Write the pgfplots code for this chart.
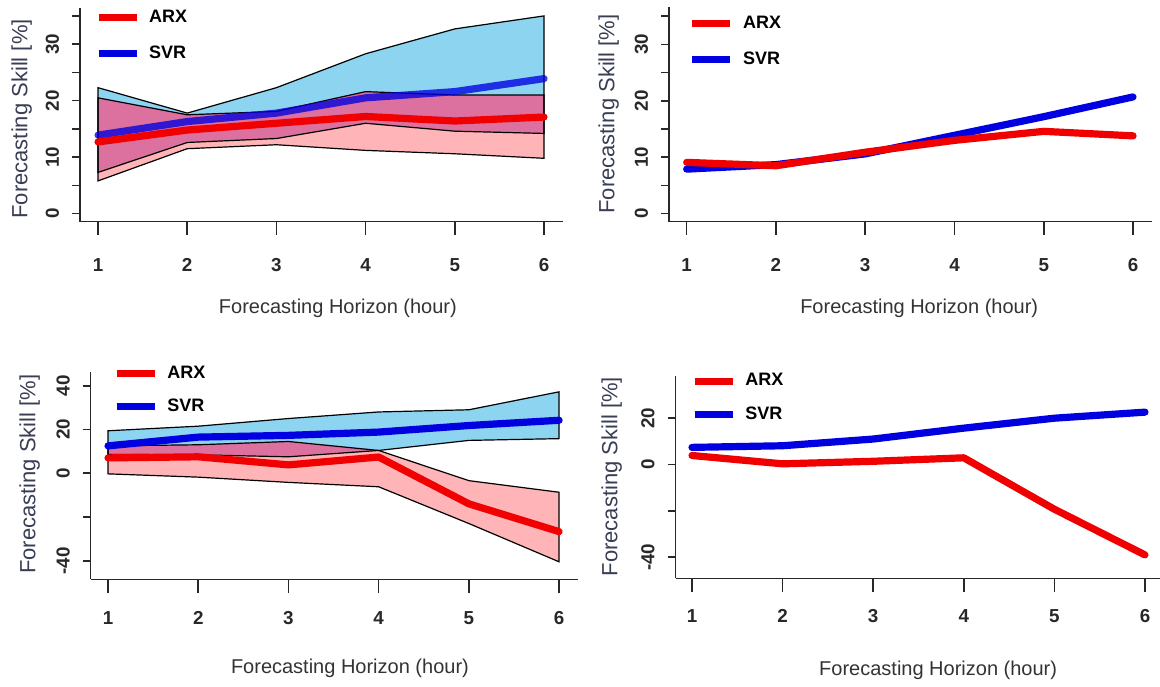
\documentclass[border=0pt]{standalone}
\usepackage{pgfplots}
\pgfplotsset{compat=1.18}
\usepackage{fontspec}
\setmainfont{Liberation Sans}
\definecolor{skyb}{RGB}{140,212,240}
\definecolor{pinkb}{RGB}{255,180,184}
\definecolor{ovl}{RGB}{220,112,158}
\definecolor{rline}{RGB}{240,0,0}
\definecolor{bline}{RGB}{0,0,225}
\definecolor{ylab}{RGB}{58,62,85}
\definecolor{axc}{RGB}{40,40,40}
\pgfplotsset{
  rstyle/.style={
    scale only axis,
    axis x line*=bottom, axis y line*=left,
    axis line style={line width=0.8pt, color=axc},
    tick align=outside,
    xtick={1,2,3,4,5,6}, xticklabels={1,2,3,4,5,6},
    xtick style={line width=0.8pt, color=axc, /pgfplots/major tick length=6.5pt},
    ytick style={line width=0.8pt, color=axc, /pgfplots/major tick length=4pt},
    ticklabel style={font=\bfseries\fontsize{9.4}{10}\selectfont, text=axc},
    xticklabel style={anchor=north, inner sep=0pt},
    yticklabel style={rotate=90, anchor=south, inner sep=0pt},
    xticklabel shift=13.75pt, yticklabel shift=6pt,
    xlabel={Forecasting Horizon (hour)},
    ylabel={Forecasting Skill [\%]},
    xlabel style={font=\fontsize{10}{12}\selectfont, text=black!80, anchor=center},
    ylabel style={font=\fontsize{11}{13}\selectfont, text=ylab, anchor=center},
    legend cell align=left,
    legend image code/.code={\draw[##1] (0pt,0pt) -- (19pt,0pt);},
    legend style={draw=none, fill=none, inner sep=0pt, outer sep=0pt,
      anchor=north west, column sep=4.5pt,
      font=\bfseries\fontsize{9}{10}\selectfont,
      nodes={inner sep=0pt}},
  },
  arxl/.style={rline, line width=3.6pt, line cap=round, line join=round},
  svrl/.style={bline, line width=3.6pt, line cap=round, line join=round},
  svrt/.style={svrl, draw opacity=0.78},
  bandout/.style={black, line width=0.6pt},
}
\begin{document}
\begin{tikzpicture}
\useasboundingbox (0,0) rectangle (580pt,343pt);
% ---------------- Panel 1 ----------------
\begin{axis}[rstyle, at={(40pt,232.15pt)}, anchor=south west,
  width=241.5pt, height=106.85pt,
  xmin=0.798, xmax=6.213, ymin=-1.42, ymax=36.4,
  ytick={0,5,10,15,20,25,30,35}, yticklabels={0,,10,,20,,30,},
  xlabel style={at={(axis description cs:0.534,-0.404)}},
  ylabel style={at={(axis description cs:-0.1207,0.481)}},
  legend style={at={(axis description cs:0.031,0.990)}, row sep=10.15pt}]
% SVR band
\addplot[fill=skyb, draw=none, forget plot] coordinates {(1,7.3) (2,12.6) (3,13.3) (4,16.0) (5,14.6) (6,14.2) (6,35.0) (5,32.7) (4,28.3) (3,22.3) (2,17.8) (1,22.3)} -- cycle;
% ARX only
\addplot[fill=pinkb, draw=none, forget plot] coordinates {(1,5.8) (2,11.5) (3,12.2) (4,11.2) (5,10.6) (6,9.8) (6,14.2) (5,14.6) (4,16.0) (3,13.3) (2,12.6) (1,7.3)} -- cycle;
% overlap
\addplot[fill=ovl, draw=none, forget plot] coordinates {(1,7.3) (2,12.6) (3,13.3) (4,16.0) (5,14.6) (6,14.2) (6,21.0) (5,21.0) (4,21.6) (3,18.1) (2,17.5) (1,20.5)} -- cycle;
% outlines
\addplot[bandout, forget plot] coordinates {(1,7.3) (2,12.6) (3,13.3) (4,16.0) (5,14.6) (6,14.2) (6,35.0) (5,32.7) (4,28.3) (3,22.3) (2,17.8) (1,22.3)} -- cycle;
\addplot[bandout, forget plot] coordinates {(1,5.8) (2,11.5) (3,12.2) (4,11.2) (5,10.6) (6,9.8) (6,21.0) (5,21.0) (4,21.6) (3,18.1) (2,17.5) (1,20.5)} -- cycle;
% SVR mean
\addplot[svrt, forget plot] coordinates {(1,13.9) (2,16.3) (3,17.8) (4,20.5) (5,21.6) (6,23.9)};
% ARX mean
\addplot[arxl, forget plot] coordinates {(1,12.7) (2,14.8) (3,16.0) (4,17.2) (5,16.4) (6,17.1)};
\addlegendimage{arxl, line cap=butt}\addlegendentry{ARX}
\addlegendimage{svrl, line cap=butt}\addlegendentry{SVR}
\end{axis}
% ---------------- Panel 2 ----------------
\begin{axis}[rstyle, at={(334.5pt,232.15pt)}, anchor=south west,
  width=241.5pt, height=107.5pt,
  xmin=0.802, xmax=6.213, ymin=-1.42, ymax=36.7,
  ytick={0,5,10,15,20,25,30,35}, yticklabels={0,,10,,20,,30,},
  xlabel style={at={(axis description cs:0.518,-0.401)}},
  ylabel style={at={(axis description cs:-0.125,0.501)}},
  legend style={at={(axis description cs:0.041,0.956)}, row sep=10.15pt}]
\addplot[svrl, forget plot] coordinates {(1,7.9) (2,8.7) (3,10.6) (4,13.9) (5,17.2) (6,20.7)};
\addplot[arxl, forget plot] coordinates {(1,9.1) (2,8.5) (3,10.9) (4,13.0) (5,14.6) (6,13.8)};
\addlegendimage{arxl, line cap=butt}\addlegendentry{ARX}
\addlegendimage{svrl, line cap=butt}\addlegendentry{SVR}
\end{axis}
% ---------------- Panel 3 ----------------
\begin{axis}[rstyle, at={(45.35pt,53.35pt)}, anchor=south west,
  width=243.65pt, height=103.8pt,
  xmin=0.808, xmax=6.21, ymin=-48.5, ymax=46.4,
  ytick={-40,-20,0,20,40}, yticklabels={-40,,0,20,40},
  xtick style={/pgfplots/major tick length=7pt},
  xticklabel shift=11.5pt,
  xlabel style={at={(axis description cs:0.532,-0.429)}},
  ylabel style={at={(axis description cs:-0.125,0.507)}},
  legend style={at={(axis description cs:0.046,1.028)}, row sep=8.75pt}]
% SVR band
\addplot[fill=skyb, draw=none, forget plot] coordinates {(1,8.6) (2,8.4) (3,7.5) (4,10.4) (5,15.0) (6,15.8) (6,37.2) (5,29.0) (4,28.0) (3,25.0) (2,21.5) (1,19.4)} -- cycle;
% ARX only
\addplot[fill=pinkb, draw=none, forget plot] coordinates {(1,-0.3) (2,-1.8) (3,-4.2) (4,-6.2) (5,-23.0) (6,-40.5) (6,-8.7) (5,-3.4) (4,10.4) (3,7.5) (2,8.4) (1,8.6)} -- cycle;
% overlap
\addplot[fill=ovl, draw=none, forget plot] coordinates {(1,8.6) (2,8.4) (3,7.5) (4,10.4) (3,14.5) (2,13.0) (1,12.5)} -- cycle;
% outlines
\addplot[bandout, forget plot] coordinates {(1,8.6) (2,8.4) (3,7.5) (4,10.4) (5,15.0) (6,15.8) (6,37.2) (5,29.0) (4,28.0) (3,25.0) (2,21.5) (1,19.4)} -- cycle;
\addplot[bandout, forget plot] coordinates {(1,-0.3) (2,-1.8) (3,-4.2) (4,-6.2) (5,-23.0) (6,-40.5) (6,-8.7) (5,-3.4) (4,10.4) (3,14.5) (2,13.0) (1,12.5)} -- cycle;
% SVR mean
\addplot[svrl, forget plot] coordinates {(1,12.5) (2,16.5) (3,17.3) (4,18.8) (5,21.8) (6,24.2)};
% ARX mean
\addplot[arxl, forget plot] coordinates {(1,7.0) (2,7.5) (3,3.8) (4,7.4) (5,-14.0) (6,-26.7)};
\addlegendimage{arxl, line cap=butt}\addlegendentry{ARX}
\addlegendimage{svrl, line cap=butt}\addlegendentry{SVR}
\end{axis}
% ---------------- Panel 4 ----------------
\begin{axis}[rstyle, at={(337.8pt,53.85pt)}, anchor=south west,
  width=242.2pt, height=101.15pt,
  xmin=0.819, xmax=6.166, ymin=-49.1, ymax=38.2,
  ytick={-40,-20,0,20}, yticklabels={-40,,0,20},
  xtick style={/pgfplots/major tick length=7pt},
  xticklabel shift=11pt,
  xlabel style={at={(axis description cs:0.542,-0.453)}},
  ylabel style={at={(axis description cs:-0.132,0.502)}},
  legend style={at={(axis description cs:0.032,1.012)}, row sep=8.9pt}]
\addplot[svrl, forget plot] coordinates {(1,7.4) (2,8.1) (3,11.0) (4,15.7) (5,20.0) (6,22.6)};
\addplot[arxl, forget plot] coordinates {(1,3.9) (2,0.3) (3,1.4) (4,2.9) (5,-19.3) (6,-39.0)};
\addlegendimage{arxl, line cap=butt}\addlegendentry{ARX}
\addlegendimage{svrl, line cap=butt}\addlegendentry{SVR}
\end{axis}
\end{tikzpicture}
\end{document}
